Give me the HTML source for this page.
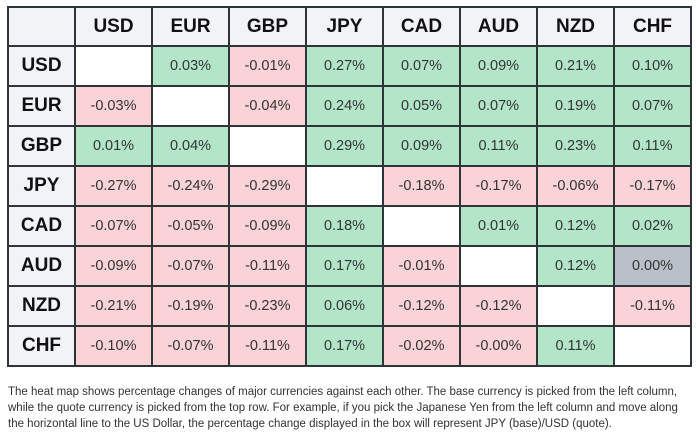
<!DOCTYPE html>
<html><head><style>
body{margin:0;width:696px;height:437px;background:#fff;font-family:"Liberation Sans",sans-serif;position:relative;overflow:hidden}
table{position:absolute;left:7px;top:6px;border-collapse:collapse;}
td{border:2px solid #2f3438;height:38px;text-align:center;font-size:14.5px;color:#333;padding:0;width:75px}
tr.hr td{height:37px}
td.h{background:#f1f3f7;font-weight:bold;font-size:19px;color:#111}
td.c0{width:65px}
.g{background:#b3e6c9}.r{background:#f9d3d5}.n{background:#b9c0ca}.w{background:#fff}
p{position:absolute;left:8px;top:384px;margin:0;font-size:11.5px;line-height:16px;color:#333;width:690px;white-space:nowrap}
</style></head><body>
<table>
<tr class="hr"><td class="h c0"></td><td class="h">USD</td><td class="h">EUR</td><td class="h">GBP</td><td class="h">JPY</td><td class="h">CAD</td><td class="h">AUD</td><td class="h">NZD</td><td class="h">CHF</td></tr>
<tr><td class="h c0">USD</td><td class="w"></td><td class="g">0.03%</td><td class="r">-0.01%</td><td class="g">0.27%</td><td class="g">0.07%</td><td class="g">0.09%</td><td class="g">0.21%</td><td class="g">0.10%</td></tr>
<tr><td class="h c0">EUR</td><td class="r">-0.03%</td><td class="w"></td><td class="r">-0.04%</td><td class="g">0.24%</td><td class="g">0.05%</td><td class="g">0.07%</td><td class="g">0.19%</td><td class="g">0.07%</td></tr>
<tr><td class="h c0">GBP</td><td class="g">0.01%</td><td class="g">0.04%</td><td class="w"></td><td class="g">0.29%</td><td class="g">0.09%</td><td class="g">0.11%</td><td class="g">0.23%</td><td class="g">0.11%</td></tr>
<tr><td class="h c0">JPY</td><td class="r">-0.27%</td><td class="r">-0.24%</td><td class="r">-0.29%</td><td class="w"></td><td class="r">-0.18%</td><td class="r">-0.17%</td><td class="r">-0.06%</td><td class="r">-0.17%</td></tr>
<tr><td class="h c0">CAD</td><td class="r">-0.07%</td><td class="r">-0.05%</td><td class="r">-0.09%</td><td class="g">0.18%</td><td class="w"></td><td class="g">0.01%</td><td class="g">0.12%</td><td class="g">0.02%</td></tr>
<tr><td class="h c0">AUD</td><td class="r">-0.09%</td><td class="r">-0.07%</td><td class="r">-0.11%</td><td class="g">0.17%</td><td class="r">-0.01%</td><td class="w"></td><td class="g">0.12%</td><td class="n">0.00%</td></tr>
<tr><td class="h c0">NZD</td><td class="r">-0.21%</td><td class="r">-0.19%</td><td class="r">-0.23%</td><td class="g">0.06%</td><td class="r">-0.12%</td><td class="r">-0.12%</td><td class="w"></td><td class="r">-0.11%</td></tr>
<tr><td class="h c0">CHF</td><td class="r">-0.10%</td><td class="r">-0.07%</td><td class="r">-0.11%</td><td class="g">0.17%</td><td class="r">-0.02%</td><td class="r">-0.00%</td><td class="g">0.11%</td><td class="w"></td></tr>
</table>
<p>The heat map shows percentage changes of major currencies against each other. The base currency is picked from the left column,<br>while the quote currency is picked from the top row. For example, if you pick the Japanese Yen from the left column and move along<br>the horizontal line to the US Dollar, the percentage change displayed in the box will represent JPY (base)/USD (quote).</p>
</body></html>
